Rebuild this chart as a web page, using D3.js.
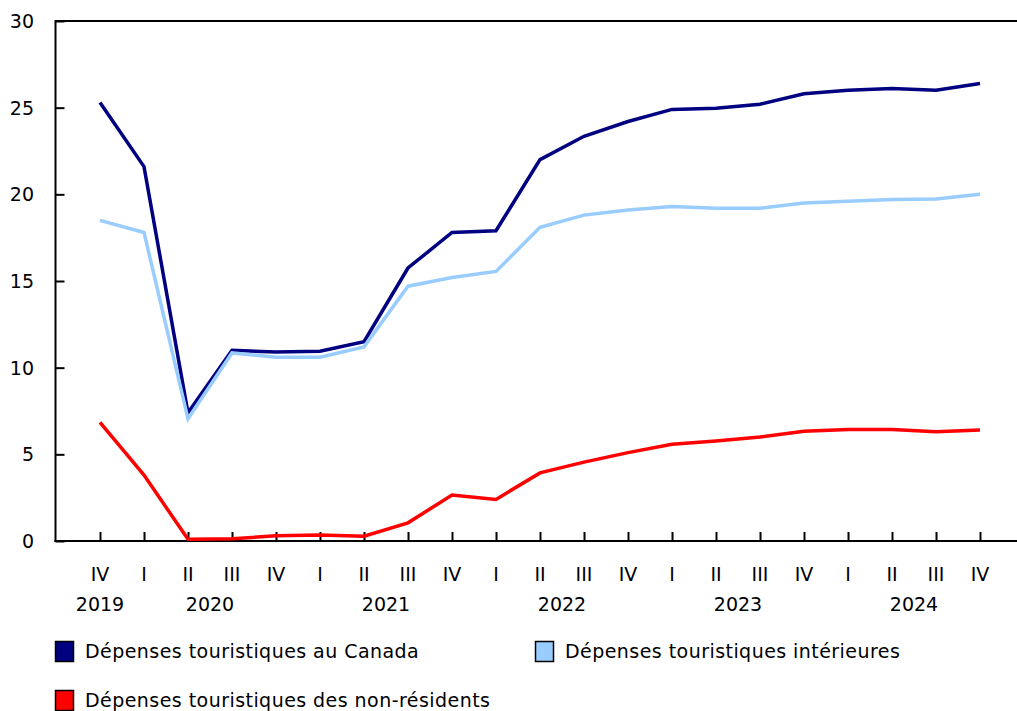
<!DOCTYPE html>
<html>
<head>
<meta charset="utf-8">
<script src="https://cdn.jsdelivr.net/npm/d3@7"></script>
<style>
  body { margin: 0; background: #fff; }
  svg { display: block; font-family: Verdana, "DejaVu Sans", sans-serif; }
</style>
</head>
<body>
<div id="chart-container"></div>
<script>
// quarters from IV 2019 to IV 2024
const quarters = ['IV', 'I', 'II', 'III', 'IV', 'I', 'II', 'III', 'IV', 'I', 'II', 'III', 'IV', 'I', 'II', 'III', 'IV', 'I', 'II', 'III', 'IV'];
const years = ['2019', '2020', '2021', '2022', '2023', '2024'];
const yTicks = [0, 5, 10, 15, 20, 25, 30];

const canada = [25.3, 21.6, 7.4, 11.0, 10.9, 10.95, 11.5, 15.75, 17.8, 17.9, 22.0, 23.35, 24.2, 24.9, 24.97, 25.2, 25.8, 26.0, 26.1, 26.0, 26.4];
const interieures = [18.5, 17.8, 7.05, 10.85, 10.6, 10.6, 11.2, 14.7, 15.2, 15.55, 18.1, 18.8, 19.1, 19.3, 19.2, 19.2, 19.5, 19.6, 19.7, 19.73, 20.0];
const nonResidents = [6.85, 3.8, 0.1, 0.13, 0.3, 0.35, 0.28, 1.05, 2.65, 2.4, 3.93, 4.55, 5.1, 5.58, 5.77, 6.0, 6.33, 6.43, 6.43, 6.3, 6.4];

const seriesNames = ['Dépenses touristiques au Canada', 'Dépenses touristiques intérieures', 'Dépenses touristiques des non-résidents'];
const colors = ['#000080', '#99ccff', '#ff0000'];

const width = 1017, height = 711;
const svg = d3.select('#chart-container').append('svg')
  .attr('width', width)
  .attr('height', height);

const margin = { left: 55.5, top: 21, bottom: 541, right: 1017 };

const x = d3.scalePoint().domain(d3.range(quarters.length)).range([100, 980]);
const y = d3.scaleLinear().domain([0, 30]).range([margin.bottom, margin.top]);

// frame: top line
svg.append('line')
  .attr('x1', margin.left).attr('x2', margin.right)
  .attr('y1', margin.top).attr('y2', margin.top)
  .attr('stroke', '#000').attr('stroke-width', 2);

// y axis
const yAxis = svg.append('g')
  .attr('transform', 'translate(' + margin.left + ',0)')
  .call(d3.axisRight(y).tickValues(yTicks).tickSize(9).tickFormat(''));
yAxis.select('.domain').remove();
yAxis.selectAll('line').attr('stroke', '#000').attr('stroke-width', 2);
svg.append('line')
  .attr('x1', margin.left).attr('x2', margin.left)
  .attr('y1', margin.top - 1).attr('y2', margin.bottom + 1)
  .attr('stroke', '#000').attr('stroke-width', 2);

svg.append('g').selectAll('text')
  .data(yTicks)
  .enter().append('text')
  .attr('x', 34)
  .attr('y', d => y(d) + 7)
  .attr('text-anchor', 'end')
  .attr('font-size', 19)
  .attr('fill', '#000')
  .text(d => d);

// x axis
const xAxis = svg.append('g')
  .attr('transform', 'translate(0,' + margin.bottom + ')')
  .call(d3.axisTop(x).tickSize(9).tickFormat(''));
xAxis.select('.domain').remove();
xAxis.selectAll('line').attr('stroke', '#000').attr('stroke-width', 2);
svg.append('line')
  .attr('x1', margin.left - 1).attr('x2', margin.right)
  .attr('y1', margin.bottom).attr('y2', margin.bottom)
  .attr('stroke', '#000').attr('stroke-width', 2);

svg.append('g').selectAll('text')
  .data(quarters)
  .enter().append('text')
  .attr('x', (d, i) => x(i))
  .attr('y', 581)
  .attr('text-anchor', 'middle')
  .attr('font-size', 19)
  .attr('fill', '#000')
  .text(d => d);

// year labels centred under the quarters of each year
const yearIdx = [[0], [1, 2, 3, 4], [5, 6, 7, 8], [9, 10, 11, 12], [13, 14, 15, 16], [17, 18, 19, 20]];
svg.append('g').selectAll('text')
  .data(years)
  .enter().append('text')
  .attr('x', (d, i) => d3.mean(yearIdx[i], k => x(k)))
  .attr('y', 611)
  .attr('text-anchor', 'middle')
  .attr('font-size', 19)
  .attr('fill', '#000')
  .text(d => d);

// lines
const line = d3.line()
  .x((d, i) => x(i))
  .y(d => y(d));

[canada, interieures, nonResidents].forEach((s, k) => {
  svg.append('path')
    .datum(s)
    .attr('fill', 'none')
    .attr('stroke', colors[k])
    .attr('stroke-width', 3.5)
    .attr('stroke-linejoin', 'miter')
    .attr('d', line);
});

// legend
const legendPos = [[55, 641], [535, 641], [55, 690]];
const legend = svg.append('g').selectAll('g')
  .data(seriesNames)
  .enter().append('g')
  .attr('transform', (d, i) => 'translate(' + legendPos[i][0] + ',' + legendPos[i][1] + ')');

legend.append('rect')
  .attr('x', 0.5).attr('y', 0.5)
  .attr('width', 18).attr('height', 20)
  .attr('fill', (d, i) => colors[i])
  .attr('stroke', '#000')
  .attr('stroke-width', 1.5);

legend.append('text')
  .attr('x', 30)
  .attr('y', 17)
  .attr('font-size', 19)
  .attr('letter-spacing', 0.45)
  .attr('fill', '#000')
  .text(d => d);
</script>
</body>
</html>
